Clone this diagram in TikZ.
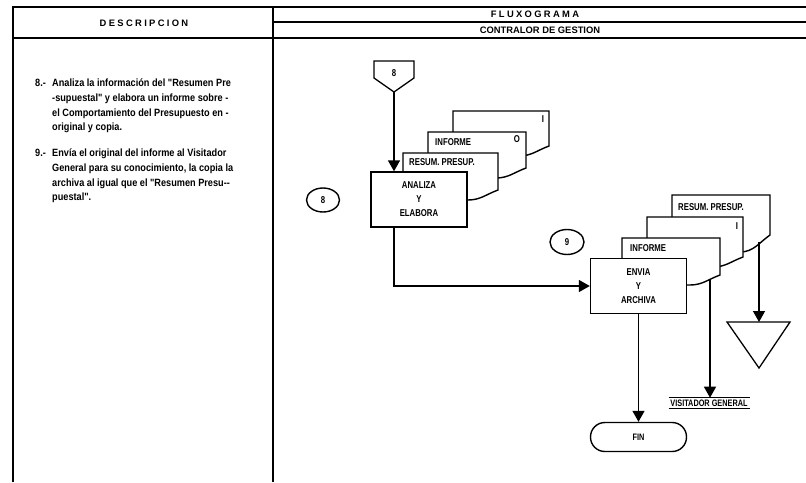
\documentclass[tikz,border=0pt]{standalone}
\usepackage{fontspec}
\setmainfont{Liberation Sans}
\newfontfamily\cond[FakeStretch=0.78]{Liberation Sans}
\newfontfamily\desccond[FakeStretch=0.87]{Liberation Sans}
\newfontfamily\spaced[LetterSpace=25]{Liberation Sans}
\usetikzlibrary{arrows.meta,positioning,shapes.geometric}

\tikzset{
  frame/.style={line width=1.1pt},
  proc/.style={draw,fill=white,line width=1.2pt,minimum width=28.8mm,minimum height=16.5mm,inner sep=0pt,align=center,font=\cond\bfseries\fontsize{8.5}{12}\selectfont},
  docu/.style={draw,fill=white,line width=1.2pt},
  doctext/.style={inner sep=0pt,font=\cond\bfseries\fontsize{8.5}{10}\selectfont},
  conn/.style={draw,ellipse,line width=1.2pt,inner sep=0pt,font=\cond\bfseries\fontsize{8.5}{10}\selectfont},
  term/.style={draw,line width=1.2pt,rounded corners=4.3mm,minimum width=28.8mm,minimum height=8.7mm,font=\cond\bfseries\fontsize{8}{10}\selectfont},
  head/.style={inner sep=0pt,font=\spaced\bfseries\fontsize{8}{10}\selectfont},
  desc/.style={inner sep=0pt,anchor=north west,align=left,font=\desccond\bfseries\fontsize{9}{12.5}\selectfont},
  flow/.style={line width=1.2pt,-{Triangle[length=3.3mm,width=3.6mm]}}
}

\begin{document}
\begin{tikzpicture}[x=0.3mm,y=-0.3mm]
\useasboundingbox (0,0) rectangle (806,482);

% frame and heading
\draw[frame] (13,482) -- (13,7) -- (806,7);
\draw[frame] (273,7) -- (273,482);
\draw[frame] (273,22) -- (806,22);
\draw[frame] (13,38) -- (806,38);
\node[head] (hdesc) at (144,23) {DESCRIPCION};
\node[head] (hfluxo) at (535,14.5) {FLUXOGRAMA};
\node[head,font=\bfseries\fontsize{8}{10}\selectfont] (hcontr) at (540,30) {CONTRALOR DE GESTION};

% description column
\node[desc] (n8) at (35,79) {8.-};
\node[desc] (t8) at (52,79) {Analiza la información del "Resumen Pre\\-supuestal" y elabora un informe sobre -\\el Comportamiento del Presupuesto en -\\original y copia.};
\node[desc] (n9) at (35,149) {9.-};
\node[desc] (t9) at (52,149) {Envía el original del informe al Visitador\\General para su conocimiento, la copia la\\archiva al igual que el "Resumen Presu--\\puestal".};

% step 8
\draw[frame] (374,61) -- (414,61) -- (414,78) -- (394,92) -- (374,78) -- cycle;
\node[doctext] (pent) at (394,73) {8};
\coordinate (pentip) at (394,92);
\node[conn,minimum width=9.9mm,minimum height=7.2mm] (c8) at (323,200) {8};

\draw[docu] (453,111) -- (549,111) -- (549,146) to[out=200,in=0] (519,156) -- (453,156) -- cycle;
\node[doctext] (i1) at (543,119) {I};
\draw[docu] (428,132) -- (526,132) -- (526,168) to[out=200,in=0] (496,178) -- (428,178) -- cycle;
\node[doctext,anchor=west] (inf1) at (435,142) {INFORME};
\node[doctext] (o1) at (517,139) {O};
\draw[docu] (403,153) -- (498,153) -- (498,190) to[out=200,in=0] (468,200) -- (403,200) -- cycle;
\node[doctext,anchor=west] (res1) at (409,162) {RESUM. PRESUP.};
\node[proc] (analiza) at (419,199.5) {ANALIZA\\Y\\ELABORA};

\draw[flow] (pentip) -- (pentip |- analiza.north);

% step 9
\node[conn,minimum width=10.2mm,minimum height=7.5mm] (c9) at (567,242) {9};

\draw[docu] (672,195) -- (770,195) -- (770,235) to[out=215,in=0] (740,252) -- (672,252) -- cycle;
\node[doctext,anchor=west] (res2) at (678,207) {RESUM. PRESUP.};
\draw[docu] (647,217) -- (743,217) -- (743,257) to[out=200,in=0] (713,267) -- (647,267) -- cycle;
\node[doctext] (i2) at (737,226) {I};
\draw[docu] (622,238) -- (720,238) -- (720,275) to[out=200,in=0] (690,285) -- (622,285) -- cycle;
\node[doctext,anchor=west] (inf2) at (630,248) {INFORME};
\node[proc] (envia) at (638.5,286) {ENVIA\\Y\\ARCHIVA};

\draw[flow] (pentip |- analiza.south) |- (envia.west);

% destinations
\draw[frame,fill=white] (727,322) -- (790,322) -- (759,368) -- cycle;
\coordinate (tri) at (759,322);
\coordinate (res2b) at (759,242);
\coordinate (inf2b) at (710,279);
\node[inner sep=1.5pt,font=\cond\bfseries\fontsize{8}{10}\selectfont] (visit) at (709,403) {VISITADOR GENERAL};
\draw[line width=1pt] (visit.north west) -- (visit.north east);
\draw[line width=1pt] (visit.south west) -- (visit.south east);
\node[term] (fin) at (638.5,437) {FIN};

\draw[flow] (res2b) -- (tri);
\draw[flow] (inf2b) -- (inf2b |- visit.north);
\draw[flow] (envia.south) -- (fin.north);
\end{tikzpicture}
\end{document}
